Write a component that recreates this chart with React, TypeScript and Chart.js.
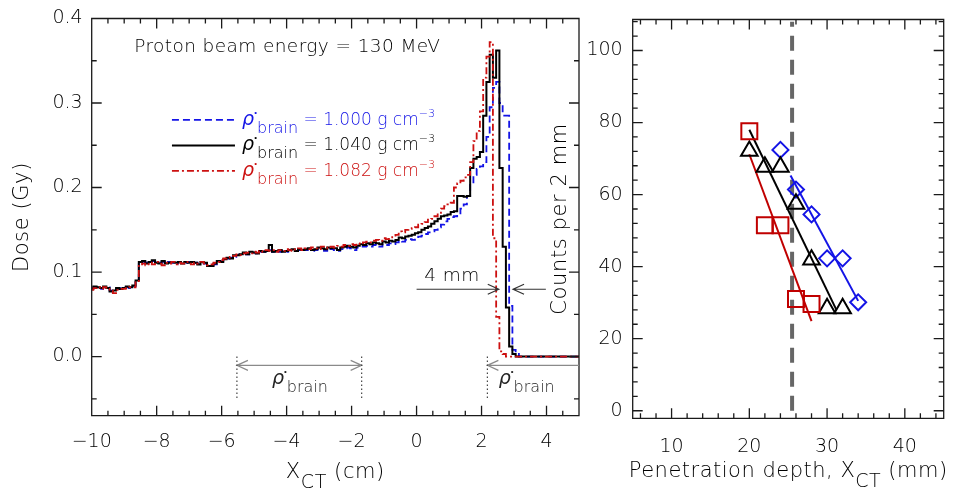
import React, { useEffect, useRef } from 'react';
import { Chart, registerables } from 'chart.js';

Chart.register(...registerables);

const FONT = '"DejaVu Sans", "Liberation Sans", sans-serif';
const WEIGHT = '200';
const INK = '#000';
const BLUE = '#1414e6';
const RED = '#cc1010';
const DARK_RED = '#c00000';
const GRAY = '#8a8a8a';

// ---------------- Left panel data: dose per 1 mm bin, bin centres from -10 cm ----------------
const BIN_START = -10;
const BIN_WIDTH = 0.1;

const DOSE_1040 = [
  0.080, 0.083, 0.082, 0.081, 0.083, 0.081, 0.077, 0.078, 0.081, 0.080,
  0.081, 0.083, 0.082, 0.084, 0.090, 0.112, 0.113, 0.110, 0.112, 0.114,
  0.111, 0.110, 0.113, 0.110, 0.111, 0.112, 0.111, 0.112, 0.110, 0.112,
  0.111, 0.112, 0.111, 0.109, 0.112, 0.111, 0.107, 0.107, 0.110, 0.113,
  0.112, 0.115, 0.117, 0.116, 0.120, 0.120, 0.121, 0.123, 0.121, 0.124,
  0.123, 0.122, 0.125, 0.124, 0.125, 0.132, 0.124, 0.125, 0.126, 0.124,
  0.125, 0.126, 0.127, 0.125, 0.127, 0.126, 0.127, 0.128, 0.126, 0.127,
  0.129, 0.128, 0.127, 0.129, 0.128, 0.128, 0.126, 0.129, 0.130, 0.131,
  0.130, 0.129, 0.131, 0.133, 0.132, 0.134, 0.133, 0.135, 0.134, 0.133,
  0.136, 0.135, 0.137, 0.136, 0.138, 0.141, 0.140, 0.142, 0.143, 0.144,
  0.146, 0.147, 0.150, 0.152, 0.154, 0.157, 0.160, 0.163, 0.166, 0.167,
  0.168, 0.171, 0.172, 0.190, 0.190, 0.189, 0.190, 0.223, 0.234, 0.236,
  0.242, 0.285, 0.325, 0.357, 0.330, 0.362, 0.223, 0.130, 0.058, 0.012,
  0.003, 0, 0, 0, 0, 0, 0, 0, 0, 0,
  0, 0, 0, 0, 0, 0, 0, 0, 0, 0,
  0,
];

const DOSE_1000 = [
  0.081, 0.082, 0.082, 0.080, 0.082, 0.082, 0.078, 0.079, 0.080, 0.081,
  0.082, 0.082, 0.081, 0.083, 0.088, 0.111, 0.112, 0.111, 0.111, 0.113,
  0.112, 0.111, 0.112, 0.111, 0.112, 0.111, 0.110, 0.112, 0.111, 0.111,
  0.112, 0.110, 0.111, 0.110, 0.111, 0.110, 0.108, 0.108, 0.109, 0.112,
  0.113, 0.114, 0.116, 0.117, 0.118, 0.120, 0.121, 0.122, 0.121, 0.123,
  0.123, 0.122, 0.124, 0.124, 0.125, 0.126, 0.124, 0.125, 0.124, 0.125,
  0.124, 0.126, 0.126, 0.125, 0.126, 0.126, 0.126, 0.127, 0.125, 0.126,
  0.127, 0.127, 0.125, 0.128, 0.127, 0.126, 0.125, 0.127, 0.128, 0.129,
  0.128, 0.126, 0.129, 0.130, 0.130, 0.131, 0.130, 0.132, 0.131, 0.130,
  0.133, 0.132, 0.134, 0.133, 0.135, 0.137, 0.136, 0.138, 0.139, 0.138,
  0.140, 0.142, 0.143, 0.145, 0.147, 0.148, 0.150, 0.153, 0.156, 0.160,
  0.163, 0.165, 0.166, 0.168, 0.175, 0.180, 0.190, 0.205, 0.215, 0.222,
  0.225, 0.230, 0.260, 0.295, 0.318, 0.325, 0.300, 0.285, 0.285, 0.060,
  0.008, 0.006, 0, 0, 0, 0, 0, 0, 0, 0,
  0, 0, 0, 0, 0, 0, 0, 0, 0, 0,
  0,
];

const DOSE_1082 = [
  0.079, 0.081, 0.082, 0.080, 0.082, 0.080, 0.078, 0.075, 0.079, 0.080,
  0.080, 0.081, 0.082, 0.082, 0.088, 0.109, 0.110, 0.108, 0.111, 0.109,
  0.112, 0.110, 0.108, 0.111, 0.110, 0.112, 0.109, 0.111, 0.110, 0.112,
  0.110, 0.109, 0.111, 0.110, 0.112, 0.110, 0.108, 0.109, 0.111, 0.112,
  0.114, 0.116, 0.117, 0.118, 0.119, 0.121, 0.120, 0.122, 0.123, 0.122,
  0.124, 0.123, 0.125, 0.124, 0.126, 0.125, 0.126, 0.124, 0.126, 0.125,
  0.127, 0.126, 0.125, 0.127, 0.128, 0.126, 0.128, 0.127, 0.129, 0.128,
  0.127, 0.130, 0.129, 0.128, 0.130, 0.129, 0.131, 0.130, 0.132, 0.131,
  0.133, 0.132, 0.134, 0.133, 0.135, 0.136, 0.135, 0.137, 0.138, 0.137,
  0.140, 0.139, 0.141, 0.143, 0.144, 0.148, 0.147, 0.150, 0.151, 0.152,
  0.153, 0.156, 0.157, 0.159, 0.162, 0.163, 0.166, 0.170, 0.175, 0.178,
  0.180, 0.182, 0.200, 0.205, 0.208, 0.212, 0.215, 0.230, 0.255, 0.267,
  0.290, 0.330, 0.355, 0.372, 0.140, 0.047, 0.006, 0.003, 0, 0,
  0, 0, 0, 0, 0, 0, 0, 0, 0, 0,
  0, 0, 0, 0, 0, 0, 0, 0, 0, 0,
  0,
];

const LEFT_X_RANGE = [-10, 5];
const LEFT_Y_RANGE = [-0.07, 0.4];
const LEFT_X_TICKS = [-10, -8, -6, -4, -2, 0, 2, 4];
const LEFT_Y_TICKS = [0, 0.1, 0.2, 0.3, 0.4];
const LEFT_X_MINOR = 0.5;
const LEFT_Y_MINOR = 0.05;

// annotation anchors (data coordinates of the left panel)
const ENERGY_TEXT = 'Proton beam energy = 130 MeV';
const ENERGY_AT = [-8.69, 0.36];
const LEGEND_DENSITIES = ['1.000', '1.040', '1.082'];
const LEGEND_LINE_X = [-7.53, -5.59];
const LEGEND_TEXT_X = -5.37;
const LEGEND_Y = [0.28, 0.2498, 0.2196];
const GAP_TEXT = '4 mm';
const GAP_TEXT_AT = [1.09, 0.0897];
const GAP_ARROW_Y = 0.0796;
const GAP_ARROW_A = [0.0, 2.53];
const GAP_ARROW_B = [3.98, 2.97];
const BRAIN_EDGES = [-5.53, -1.69];
const BRAIN_EDGE_2 = 2.18;
const BRACKET_Y = -0.0104;
const BRACKET_DROP = [0, -0.049];
const BRAIN_LABEL_X = [-4.45, 2.53];
const BRAIN_LABEL_Y = -0.0321;

// ---------------- Right panel data ----------------
const DEPTH_1000 = [24, 26, 28, 30, 32, 34];
const COUNTS_1000 = [72.4, 61.4, 54.5, 42.3, 42.3, 30.1];
const DEPTH_1040 = [20, 22, 24, 26, 28, 30, 32];
const COUNTS_1040 = [72.1, 67.7, 67.7, 57.4, 41.9, 28.4, 28.4];
const DEPTH_1082 = [20, 22, 24, 26, 28];
const COUNTS_1082 = [77.6, 51.5, 51.5, 31.0, 29.6];
const FIT_1000_X = [25.3, 34.0];
const FIT_1000_Y = [65.3, 30.5];
const FIT_1040_X = [20.0, 31.2];
const FIT_1040_Y = [78.0, 28.0];
const FIT_1082_X = [20.0, 28.0];
const FIT_1082_Y = [71.2, 24.9];
const REF_LINE_X = [25.5, 25.5];
const REF_LINE_Y = [0, 108];

const RIGHT_X_RANGE = [5, 45];
const RIGHT_Y_RANGE = [-2.1, 108.6];
const RIGHT_X_TICKS = [10, 20, 30, 40];
const RIGHT_Y_TICKS = [0, 20, 40, 60, 80, 100];
const RIGHT_X_MINOR = 2;
const RIGHT_Y_MINOR = 4;

// ---------------- helpers ----------------
const binsToXY = (arr: number[]) => arr.map((v, i) => ({ x: BIN_START + i * BIN_WIDTH, y: v }));
const zipXY = (xs: number[], ys: number[]) => xs.map((x, i) => ({ x, y: ys[i] }));
const minus = (v: number) => String(v).replace('-', '\u2212');

type Seg = { t: string; size: number; dy?: number; italic?: boolean };

function drawRich(ctx: any, segs: Seg[], x: number, y: number, align: string, color: string, spacing = 0) {
  ctx.letterSpacing = spacing + 'px';
  const fonts = segs.map((s) => `${s.italic ? 'italic ' : ''}${WEIGHT} ${s.size}px ${FONT}`);
  const widths = segs.map((s, i) => {
    ctx.font = fonts[i];
    return ctx.measureText(s.t).width;
  });
  const total = widths.reduce((a, b) => a + b, 0);
  let cx = align === 'center' ? x - total / 2 : x;
  ctx.fillStyle = color;
  ctx.textAlign = 'left';
  ctx.textBaseline = 'alphabetic';
  segs.forEach((s, i) => {
    ctx.font = fonts[i];
    ctx.fillText(s.t, cx, y + (s.dy || 0));
    cx += widths[i];
  });
  ctx.letterSpacing = '0px';
}

function head(ctx: any, tipX: number, y: number, dir: number) {
  ctx.moveTo(tipX - dir * 11, y - 5);
  ctx.lineTo(tipX, y);
  ctx.lineTo(tipX - dir * 11, y + 5);
}

function frameTicks(xMajor: number[], xMinor: number, yMajor: number[], yMinor: number) {
  return {
    id: 'frameTicks',
    afterDatasetsDraw(chart: any) {
      const { ctx, chartArea: a } = chart;
      const xs = chart.scales.x;
      const ys = chart.scales.y;
      ctx.save();
      ctx.strokeStyle = '#1a1a1a';
      ctx.lineWidth = 1.3;
      ctx.setLineDash([]);
      ctx.beginPath();
      const tx = (v: number, len: number) => {
        const p = xs.getPixelForValue(v);
        ctx.moveTo(p, a.bottom);
        ctx.lineTo(p, a.bottom - len);
        ctx.moveTo(p, a.top);
        ctx.lineTo(p, a.top + len);
      };
      const ty = (v: number, len: number) => {
        const p = ys.getPixelForValue(v);
        ctx.moveTo(a.left, p);
        ctx.lineTo(a.left + len, p);
        ctx.moveTo(a.right, p);
        ctx.lineTo(a.right - len, p);
      };
      for (let n = Math.ceil(xs.min / xMinor - 1e-9); n * xMinor <= xs.max + 1e-9; n++) tx(n * xMinor, 5);
      for (let n = Math.ceil(ys.min / yMinor - 1e-9); n * yMinor <= ys.max + 1e-9; n++) ty(n * yMinor, 5);
      xMajor.forEach((v) => tx(v, 10));
      yMajor.forEach((v) => ty(v, 10));
      ctx.rect(a.left, a.top, a.right - a.left, a.bottom - a.top);
      ctx.stroke();
      ctx.restore();
    },
  };
}

const SERIES_STYLE = [
  { color: BLUE, dash: [7, 4], width: 1.8 },
  { color: '#000', dash: [], width: 2 },
  { color: RED, dash: [7, 3, 2, 3], width: 1.8 },
];

const rhoBrain = (sub: number): Seg[] => [
  { t: '\u03C1', size: 19, italic: true },
  { t: '\u2022', size: 8, dy: -10 },
  { t: 'brain', size: 16, dy: sub },
];

const leftAnnotations = {
  id: 'leftAnno',
  afterDatasetsDraw(chart: any) {
    const { ctx, chartArea: a } = chart;
    const X = (v: number) => chart.scales.x.getPixelForValue(v);
    const Y = (v: number) => chart.scales.y.getPixelForValue(v);
    ctx.save();
    drawRich(ctx, [{ t: ENERGY_TEXT, size: 18.5 }], X(ENERGY_AT[0]), Y(ENERGY_AT[1]), 'left', INK, 0.4);
    LEGEND_DENSITIES.forEach((d, i) => {
      const st = SERIES_STYLE[i];
      const py = Y(LEGEND_Y[i]);
      ctx.beginPath();
      ctx.strokeStyle = st.color;
      ctx.lineWidth = st.width;
      ctx.setLineDash(st.dash);
      ctx.moveTo(X(LEGEND_LINE_X[0]), py);
      ctx.lineTo(X(LEGEND_LINE_X[1]), py);
      ctx.stroke();
      ctx.setLineDash([]);
      drawRich(
        ctx,
        [...rhoBrain(8), { t: ' = ' + d + ' g cm', size: 17 }, { t: '\u22123', size: 11, dy: -8 }],
        X(LEGEND_TEXT_X),
        py + 5,
        'left',
        st.color,
        0
      );
    });
    drawRich(ctx, [{ t: GAP_TEXT, size: 18.5 }], X(GAP_TEXT_AT[0]), Y(GAP_TEXT_AT[1]), 'center', INK, 0.4);
    ctx.strokeStyle = '#333';
    ctx.lineWidth = 1.2;
    ctx.beginPath();
    const gy = Y(GAP_ARROW_Y);
    ctx.moveTo(X(GAP_ARROW_A[0]), gy);
    ctx.lineTo(X(GAP_ARROW_A[1]), gy);
    head(ctx, X(GAP_ARROW_A[1]), gy, 1);
    ctx.moveTo(X(GAP_ARROW_B[0]), gy);
    ctx.lineTo(X(GAP_ARROW_B[1]), gy);
    head(ctx, X(GAP_ARROW_B[1]), gy, -1);
    ctx.stroke();
    const by = Y(BRACKET_Y);
    ctx.strokeStyle = GRAY;
    ctx.lineWidth = 1.2;
    ctx.beginPath();
    ctx.moveTo(X(BRAIN_EDGES[0]), by);
    ctx.lineTo(X(BRAIN_EDGES[1]), by);
    head(ctx, X(BRAIN_EDGES[0]), by, -1);
    head(ctx, X(BRAIN_EDGES[1]), by, 1);
    ctx.moveTo(X(BRAIN_EDGE_2), by);
    ctx.lineTo(a.right, by);
    head(ctx, X(BRAIN_EDGE_2), by, -1);
    ctx.stroke();
    ctx.strokeStyle = '#444';
    ctx.lineWidth = 1.2;
    ctx.setLineDash([1.5, 2.5]);
    ctx.beginPath();
    [BRAIN_EDGES[0], BRAIN_EDGES[1], BRAIN_EDGE_2].forEach((e) => {
      ctx.moveTo(X(e), Y(BRACKET_DROP[0]));
      ctx.lineTo(X(e), Y(BRACKET_DROP[1]));
    });
    ctx.stroke();
    ctx.setLineDash([]);
    BRAIN_LABEL_X.forEach((bx) => drawRich(ctx, rhoBrain(8), X(bx), Y(BRAIN_LABEL_Y), 'left', '#222', 0));
    const cx = (a.left + a.right) / 2;
    drawRich(ctx, [{ t: 'X', size: 21 }, { t: 'CT', size: 19, dy: 10 }, { t: ' (cm)', size: 21 }], cx, a.bottom + 62.3, 'center', INK, 0.6);
    ctx.save();
    ctx.translate(a.left - 63.7, (a.top + a.bottom) / 2);
    ctx.rotate(-Math.PI / 2);
    drawRich(ctx, [{ t: 'Dose (Gy)', size: 21 }], 0, 0, 'center', INK, 0.6);
    ctx.restore();
    ctx.restore();
  },
};

const rightAnnotations = {
  id: 'rightAnno',
  afterDatasetsDraw(chart: any) {
    const { ctx, chartArea: a } = chart;
    ctx.save();
    const cx = (a.left + a.right) / 2;
    drawRich(
      ctx,
      [{ t: 'Penetration depth, X', size: 21 }, { t: 'CT', size: 19, dy: 10 }, { t: ' (mm)', size: 21 }],
      cx,
      a.bottom + 58.7,
      'center',
      INK,
      0.5
    );
    ctx.translate(a.left - 67, (a.top + a.bottom) / 2);
    ctx.rotate(-Math.PI / 2);
    drawRich(ctx, [{ t: 'Counts per 2 mm', size: 21 }], 0, 0, 'center', INK, 0.6);
    ctx.restore();
  },
};

const tickFont = { size: 19, lineHeight: 1, family: FONT, weight: WEIGHT };

function makeLeft(canvas: HTMLCanvasElement) {
  return new Chart(canvas, {
    type: 'line',
    data: {
      datasets: [
        { data: binsToXY(DOSE_1082), borderColor: RED, borderWidth: 1.8, borderDash: [7, 3, 2, 3], stepped: 'middle', pointRadius: 0, fill: false, order: 0 },
        { data: binsToXY(DOSE_1040), borderColor: '#000', borderWidth: 2, stepped: 'middle', pointRadius: 0, fill: false, order: 1 },
        { data: binsToXY(DOSE_1000), borderColor: BLUE, borderWidth: 1.8, borderDash: [7, 4], stepped: 'middle', pointRadius: 0, fill: false, order: 2 },
      ],
    } as any,
    options: {
      animation: false,
      responsive: false,
      events: [],
      layout: { padding: { top: 10.7, right: 11, left: 0, bottom: 0 } },
      plugins: { legend: { display: false }, tooltip: { enabled: false } },
      scales: {
        x: {
          type: 'linear',
          min: LEFT_X_RANGE[0],
          max: LEFT_X_RANGE[1],
          grid: { display: false, drawTicks: false },
          border: { display: false },
          afterBuildTicks: (s: any) => { s.ticks = LEFT_X_TICKS.map((v) => ({ value: v })); },
          afterFit: (s: any) => { s.height = 74.3; },
          ticks: { padding: 17, autoSkip: false, maxRotation: 0, color: INK, font: tickFont, callback: (v: any) => minus(v) },
        },
        y: {
          type: 'linear',
          min: LEFT_Y_RANGE[0],
          max: LEFT_Y_RANGE[1],
          grid: { display: false, drawTicks: false },
          border: { display: false },
          afterBuildTicks: (s: any) => { s.ticks = LEFT_Y_TICKS.map((v) => ({ value: v })); },
          afterFit: (s: any) => { s.width = 91.7; },
          ticks: { padding: 9, autoSkip: false, color: INK, font: tickFont, callback: (v: any) => Number(v).toFixed(1) },
        },
      },
    } as any,
    plugins: [frameTicks(LEFT_X_TICKS, LEFT_X_MINOR, LEFT_Y_TICKS, LEFT_Y_MINOR), leftAnnotations],
  } as any);
}

function makeRight(canvas: HTMLCanvasElement) {
  const marker = (style: string, r: number, color: string, xs: number[], ys: number[]) => ({
    data: zipXY(xs, ys),
    showLine: false,
    pointStyle: style,
    pointRadius: r,
    pointBorderWidth: 2,
    pointBorderColor: color,
    pointBackgroundColor: 'rgba(0,0,0,0)',
    order: 1,
  });
  const fit = (color: string, xs: number[], ys: number[]) => ({
    data: zipXY(xs, ys),
    borderColor: color,
    borderWidth: 2,
    pointRadius: 0,
    fill: false,
    order: 5,
  });
  return new Chart(canvas, {
    type: 'line',
    data: {
      datasets: [
        { data: zipXY(REF_LINE_X, REF_LINE_Y), borderColor: '#666', borderWidth: 4, borderDash: [15, 9], pointRadius: 0, fill: false, order: 9 },
        fit(DARK_RED, FIT_1082_X, FIT_1082_Y),
        fit('#000', FIT_1040_X, FIT_1040_Y),
        fit(BLUE, FIT_1000_X, FIT_1000_Y),
        marker('rect', 11.3, DARK_RED, DEPTH_1082, COUNTS_1082),
        marker('triangle', 9.6, '#000', DEPTH_1040, COUNTS_1040),
        marker('rectRot', 8, BLUE, DEPTH_1000, COUNTS_1000),
      ],
    } as any,
    options: {
      animation: false,
      responsive: false,
      events: [],
      layout: { padding: { top: 10.7, right: 1.3, left: 0, bottom: 0 } },
      plugins: { legend: { display: false }, tooltip: { enabled: false } },
      scales: {
        x: {
          type: 'linear',
          min: RIGHT_X_RANGE[0],
          max: RIGHT_X_RANGE[1],
          grid: { display: false, drawTicks: false },
          border: { display: false },
          afterBuildTicks: (s: any) => { s.ticks = RIGHT_X_TICKS.map((v) => ({ value: v })); },
          afterFit: (s: any) => { s.height = 71.7; },
          ticks: { padding: 19, autoSkip: false, maxRotation: 0, color: INK, font: tickFont },
        },
        y: {
          type: 'linear',
          min: RIGHT_Y_RANGE[0],
          max: RIGHT_Y_RANGE[1],
          grid: { display: false, drawTicks: false },
          border: { display: false },
          afterBuildTicks: (s: any) => { s.ticks = RIGHT_Y_TICKS.map((v) => ({ value: v })); },
          afterFit: (s: any) => { s.width = 92.7; },
          ticks: { padding: 10, autoSkip: false, color: INK, font: tickFont },
        },
      },
    } as any,
    plugins: [frameTicks(RIGHT_X_TICKS, RIGHT_X_MINOR, RIGHT_Y_TICKS, RIGHT_Y_MINOR), rightAnnotations],
  } as any);
}

export default function App() {
  const leftRef = useRef<HTMLCanvasElement>(null);
  const rightRef = useRef<HTMLCanvasElement>(null);
  useEffect(() => {
    Chart.defaults.font.family = FONT;
    const c1 = makeLeft(leftRef.current as HTMLCanvasElement);
    const c2 = makeRight(rightRef.current as HTMLCanvasElement);
    return () => {
      c1.destroy();
      c2.destroy();
    };
  }, []);
  return (
    <div style={{ position: 'fixed', left: 0, top: 0, width: 957, height: 490, background: '#fff', overflow: 'hidden' }}>
      <canvas ref={leftRef} width={590} height={490} style={{ position: 'absolute', left: 0, top: 0, width: 590, height: 490 }} />
      <canvas ref={rightRef} width={417} height={490} style={{ position: 'absolute', left: 540, top: 0, width: 417, height: 490 }} />
    </div>
  );
}
